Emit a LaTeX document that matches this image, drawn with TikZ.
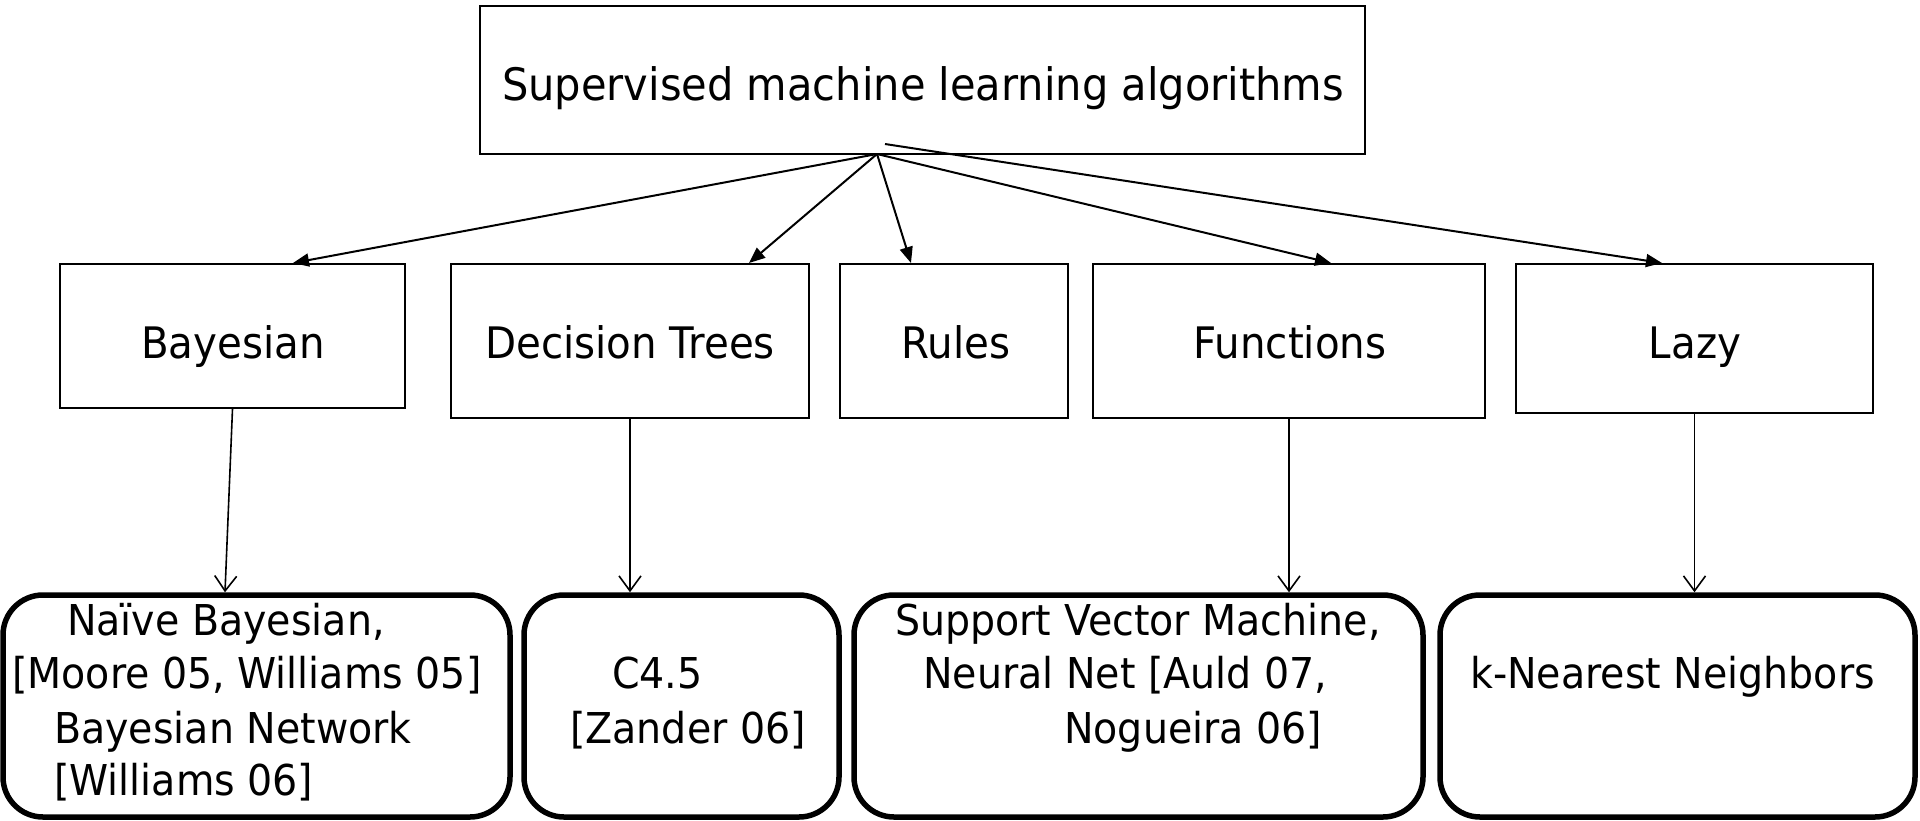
\documentclass[tikz,border=0pt]{standalone}
\usepackage{fontspec}
\setmainfont{DejaVu Sans}[FakeStretch=0.93]
\usetikzlibrary{arrows.meta}
\begin{document}
\begin{tikzpicture}[x=1pt,y=-1pt,
  topbox/.style={draw, line width=2.5pt, inner sep=0pt},
  midbox/.style={draw, line width=2pt, inner sep=0pt},
  botbox/.style={draw, line width=5.5pt, rounded corners=40pt, inner sep=0pt},
  txtT/.style={font=\fontsize{44.7}{54}\selectfont, inner sep=0pt, anchor=base},
  txtM/.style={font=\fontsize{43.4}{52}\selectfont, inner sep=0pt, anchor=base},
  txtB/.style={font=\fontsize{42.5}{52}\selectfont, inner sep=0pt, anchor=base west},
  arrT/.style={line width=2pt, -{Triangle[length=16pt,width=13pt]}},
  arrB/.style={line width=1.6pt, -{Straight Barb[length=15pt,width=22pt]}}]
\useasboundingbox (0,0) rectangle (1920,820);
% boxes
\node[topbox, minimum width=885pt, minimum height=148pt] (top) at (922.5,80) {};
\node[midbox, minimum width=345pt, minimum height=144pt] (bay) at (232.5,336) {};
\node[midbox, minimum width=358pt, minimum height=154pt] (dt) at (630,341) {};
\node[midbox, minimum width=228pt, minimum height=154pt] (rules) at (954,341) {};
\node[midbox, minimum width=392pt, minimum height=154pt] (fun) at (1289,341) {};
\node[midbox, minimum width=357pt, minimum height=149pt] (lazy) at (1694.5,338.5) {};
\node[botbox, minimum width=507pt, minimum height=222pt] (b1) at (256.5,706) {};
\node[botbox, minimum width=315pt, minimum height=222pt] (b2) at (681.5,706) {};
\node[botbox, minimum width=569pt, minimum height=222pt] (b3) at (1138.5,706) {};
\node[botbox, minimum width=475pt, minimum height=222pt] (b4) at (1677.5,706) {};
% texts
\node[txtT] (ttop) at (923,100) {Supervised machine learning algorithms};
\node[txtM] (tbay) at (233,358) {Bayesian};
\node[txtM] (tdt) at (630,358) {Decision Trees};
\node[txtM] (trules) at (956,358) {Rules};
\node[txtM] (tfun) at (1290,358) {Functions};
\node[txtM] (tlazy) at (1695,358) {Lazy};
\node[txtB] (l11) at (67,635) {Naïve Bayesian,};
\node[txtB] (l12) at (12,688) {[Moore 05, Williams 05]};
\node[txtB] (l13) at (54,743) {Bayesian Network};
\node[txtB] (l14) at (54,795) {[Williams 06]};
\node[txtB] (l21) at (612,688) {C4.5};
\node[txtB] (l22) at (570,743) {[Zander 06]};
\node[txtB] (l31) at (895,635) {Support Vector Machine,};
\node[txtB] (l32) at (923,688) {Neural Net [Auld 07,};
\node[txtB] (l33) at (1064,743) {Nogueira 06]};
\node[txtB] (l41) at (1470,688) {k-Nearest Neighbors};
% connectors
\coordinate (hub) at (877,154);
\coordinate (hubL) at (885,144);
\draw[arrT] (hub) -- ([xshift=234pt]bay.north west);
\draw[arrT] (hub) -- ([xshift=299pt]dt.north west);
\draw[arrT] (hub) -- ([xshift=72pt]rules.north west);
\draw[arrT] (hub) -- ([xshift=239pt]fun.north west);
\draw[arrT] (hubL) -- ([xshift=147pt]lazy.north west);
\draw[arrB] (bay.south) -- ([xshift=-31.5pt]b1.north);
\draw[arrB] (dt.south) -- (dt.south |- b2.north);
\draw[arrB] (fun.south) -- (fun.south |- b3.north);
\draw[arrB] (lazy.south) -- (lazy.south |- b4.north);
\end{tikzpicture}
\end{document}
